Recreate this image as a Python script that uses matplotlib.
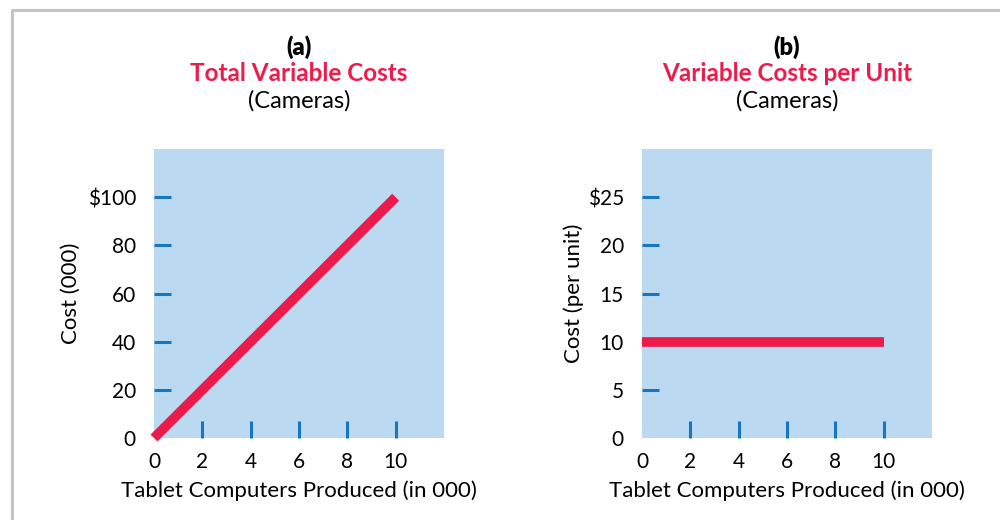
import matplotlib.pyplot as plt
from matplotlib.lines import Line2D

plt.rcParams['font.family'] = ['Lato', 'DejaVu Sans']

# units produced (000) and costs
units = [0, 10]
total_cost = [0, 100]
unit_cost = [10, 10]

x_ticks = [0, 2, 4, 6, 8, 10]
total_ticks = [0, 20, 40, 60, 80, 100]
total_labels = ['0', '20', '40', '60', '80', '$100']
unit_ticks = [0, 5, 10, 15, 20, 25]
unit_labels = ['0', '5', '10', '15', '20', '$25']

RED = '#ED1B4B'
BLUE = '#1B75BC'
BG = '#BBDAF2'

fig = plt.figure(figsize=(10, 5.2), dpi=100)

# panel frame (top and left rule)
fig.add_artist(Line2D([0.012, 0.012, 1.0], [0.0, 0.981, 0.981],
                      color='#c4c4c4', lw=2.2, transform=fig.transFigure))

panels = [
    dict(left=0.154, y=total_cost, ylim=120, yt=total_ticks, yl=total_labels,
         ylabel='Cost (000)', tag='(a)', title='Total Variable Costs', lpad=5),
    dict(left=0.642, y=unit_cost, ylim=30, yt=unit_ticks, yl=unit_labels,
         ylabel='Cost (per unit)', tag='(b)', title='Variable Costs per Unit', lpad=3),
]

for p in panels:
    ax = fig.add_axes([p['left'], 1 - 438 / 520, 0.290, 289 / 520])
    ax.set_facecolor(BG)
    for s in ax.spines.values():
        s.set_visible(False)

    ax.plot(units, p['y'], color=RED, lw=7, solid_capstyle='butt', clip_on=False, zorder=3)

    ax.set_xlim(0, 12)
    ax.set_ylim(0, p['ylim'])

    # labelled positions (no tick line)
    ax.set_xticks(x_ticks)
    ax.set_xticklabels([str(v) for v in x_ticks])
    ax.set_yticks(p['yt'])
    ax.set_yticklabels(p['yl'])
    ax.tick_params(axis='both', which='major', length=0, labelsize=15, pad=10)
    ax.tick_params(axis='y', which='major', pad=13)

    # short blue marks inside the plot area
    ax.xaxis.remove_overlapping_locs = False
    ax.yaxis.remove_overlapping_locs = False
    ax.set_xticks(x_ticks[1:], minor=True)
    ax.set_yticks(p['yt'][1:], minor=True)
    ax.tick_params(axis='both', which='minor', direction='in', length=12,
                   width=2.2, color=BLUE)

    ax.set_xlabel('Tablet Computers Produced (in 000)', fontsize=16, labelpad=6)
    ax.set_ylabel(p['ylabel'], fontsize=16, labelpad=p['lpad'])

    cx = p['left'] + 0.145
    fig.text(cx, 1 - 47 / 520, p['tag'], ha='center', va='center',
             fontsize=17, fontweight='heavy', color='black')
    fig.text(cx, 1 - 74 / 520, p['title'], ha='center', va='center',
             fontsize=17.5, fontweight='bold', color=RED)
    fig.text(cx, 1 - 101 / 520, '(Cameras)', ha='center', va='center',
             fontsize=17, color='black')

fig.savefig('out.png', dpi=100, facecolor='white')
